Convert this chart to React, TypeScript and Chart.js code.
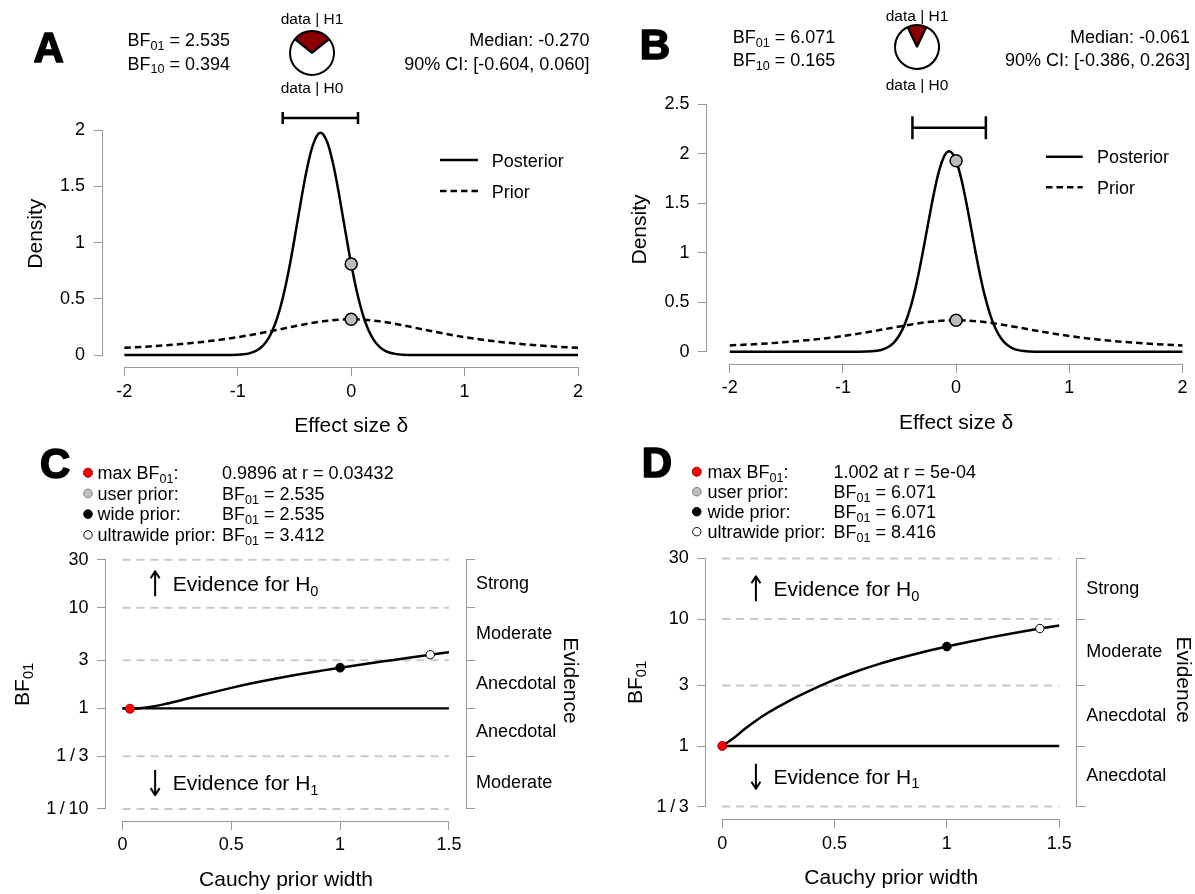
import React, { useEffect, useRef } from 'react';
import { Chart, registerables } from 'chart.js';

Chart.register(...registerables);

const FONT = "'Liberation Sans', Arial, Helvetica, sans-serif";
Chart.defaults.font.family = FONT;
const AXIS_COLOR = '#9a9a9a';
const REF_COLOR = '#c8c8c8';
const PAGE_W = 1195;
const PAGE_H = 894;
const CANVAS_W = 1220;
const PRIOR_DASH = [6.5, 4];

// ======================= DATA =======================
// Panels A / B : prior and posterior density of effect size delta
const deltaTicks = [-2, -1, 0, 1, 2];
const densityTicksA = [0, 0.5, 1, 1.5, 2];
const densityTicksB = [0, 0.5, 1, 1.5, 2, 2.5];
const testValue = 0;

const priorDelta = [-2, -1.75, -1.5, -1.25, -1, -0.75, -0.5, -0.25, 0, 0.25, 0.5, 0.75, 1, 1.25, 1.5, 1.75, 2];
const priorDensity = [0.064, 0.078, 0.098, 0.124, 0.159, 0.204, 0.255, 0.3, 0.318, 0.3, 0.255, 0.204, 0.159, 0.124, 0.098, 0.078, 0.064];

const posteriorDeltaA = [-2, -1.5, -1.1, -1.0, -0.95, -0.9, -0.85, -0.8, -0.75, -0.7, -0.65, -0.6, -0.55, -0.5, -0.45, -0.4, -0.35, -0.3, -0.27, -0.25, -0.2, -0.15, -0.1, -0.05, 0, 0.05, 0.1, 0.15, 0.2, 0.25, 0.3, 0.35, 0.4, 0.45, 0.5, 0.6, 1, 1.5, 2];
const posteriorDensityA = [0, 0, 0, 0.003, 0.007, 0.015, 0.032, 0.063, 0.117, 0.205, 0.337, 0.52, 0.756, 1.033, 1.328, 1.606, 1.826, 1.953, 1.975, 1.965, 1.86, 1.655, 1.386, 1.092, 0.809, 0.563, 0.369, 0.227, 0.132, 0.072, 0.037, 0.018, 0.008, 0.003, 0.001, 0, 0, 0, 0];

const posteriorDeltaB = [-2, -1.5, -1.0, -0.9, -0.8, -0.75, -0.7, -0.65, -0.6, -0.55, -0.5, -0.45, -0.4, -0.35, -0.3, -0.25, -0.2, -0.15, -0.1, -0.06, 0, 0.05, 0.1, 0.15, 0.2, 0.25, 0.3, 0.35, 0.4, 0.45, 0.5, 0.55, 0.6, 0.65, 0.7, 0.8, 1, 1.5, 2];
const posteriorDensityB = [0, 0, 0, 0, 0.002, 0.004, 0.01, 0.023, 0.048, 0.093, 0.169, 0.288, 0.46, 0.69, 0.97, 1.278, 1.579, 1.829, 1.986, 2.025, 1.93, 1.728, 1.45, 1.141, 0.842, 0.582, 0.378, 0.23, 0.131, 0.07, 0.035, 0.016, 0.007, 0.003, 0.001, 0, 0, 0, 0];

const densityAtZeroA = [0.809, 0.318]; // posterior, prior at delta = 0
const densityAtZeroB = [1.93, 0.318];

const bfA = [2.535, 0.394]; // BF01, BF10
const bfB = [6.071, 0.165];
const medianA = -0.27;
const medianB = -0.061;
const ciA = [-0.604, 0.06];
const ciB = [-0.386, 0.263];
const pieA = [0.2826, 0.7174]; // data|H1, data|H0
const pieB = [0.1416, 0.8584];

// Panels C / D : Bayes factor robustness check
const widthTicks = [0, 0.5, 1, 1.5];
const neutralBF = 1;

const priorWidthC = [0, 0.034, 0.1, 0.2, 0.3, 0.4, 0.5, 0.6, 0.7, 0.8, 0.9, 1.0, 1.1, 1.2, 1.3, 1.414, 1.5];
const bf01C = [1.0, 0.9896, 1.012, 1.109, 1.25, 1.416, 1.596, 1.782, 1.968, 2.153, 2.339, 2.535, 2.729, 2.931, 3.141, 3.412, 3.606];

const priorWidthD = [0, 0.05, 0.1, 0.15, 0.2, 0.3, 0.4, 0.5, 0.6, 0.7, 0.8, 0.9, 1.0, 1.1, 1.2, 1.3, 1.414, 1.5];
const bf01D = [1.0, 1.15, 1.36, 1.58, 1.81, 2.28, 2.78, 3.33, 3.88, 4.43, 4.97, 5.52, 6.071, 6.63, 7.2, 7.77, 8.416, 8.9];

// markers: max BF01, user prior, wide prior, ultrawide prior
const markerWidthC = [0.03432, 1, 1, 1.414];
const markerBFC = [0.9896, 2.535, 2.535, 3.412];
const markerWidthD = [0.0005, 1, 1, 1.414];
const markerBFD = [1.002, 6.071, 6.071, 8.416];

const bfTicksC = [0.1, 1 / 3, 1, 3, 10, 30];
const bfTickLabelsC = ['1\u2009/\u200910', '1\u2009/\u20093', '1', '3', '10', '30'];
const bfTicksD = [1 / 3, 1, 3, 10, 30];
const bfTickLabelsD = ['1\u2009/\u20093', '1', '3', '10', '30'];
const evidenceC = ['Moderate', 'Anecdotal', 'Anecdotal', 'Moderate', 'Strong'];
const evidenceD = ['Anecdotal', 'Anecdotal', 'Moderate', 'Strong'];
const arrowWidth = 0.15;

const MARKER_FILL = ['#ff0000', '#bebebe', '#000000', '#ffffff'];
const MARKER_LINE = ['#a00000', '#7c7c7c', '#000000', '#000000'];
const MARKER_R = [4.5, 4.3, 4.3, 4.2];

// ======================= HELPERS =======================
const pts = (xs: number[], ys: number[]) => xs.map((x, i) => ({ x, y: ys[i] }));
const font = (size: number, bold = false) => `${bold ? 'bold ' : ''}${size}px ${FONT}`;
const tickFont = { family: FONT, size: 18 };
const titleFont = { family: FONT, size: 21 };

type Part = [string, boolean?];

function drawRich(ctx: any, parts: Part[], x: number, y: number, size: number, align = 'left') {
  const sub = size * 0.7;
  const widths = parts.map(([t, s]) => {
    ctx.font = font(s ? sub : size);
    return ctx.measureText(t).width;
  });
  const total = widths.reduce((a, b) => a + b, 0);
  let cx = align === 'left' ? x : align === 'center' ? x - total / 2 : x - total;
  ctx.fillStyle = '#000';
  ctx.textAlign = 'left';
  ctx.textBaseline = 'alphabetic';
  parts.forEach(([t, s], i) => {
    ctx.font = font(s ? sub : size);
    ctx.fillText(t, cx, s ? y + size * 0.22 : y);
    cx += widths[i];
  });
}

const bfParts = (sub: string, rest: string): Part[] => [['BF'], [sub, true], [rest]];

function drawLetter(ctx: any, letter: string, x: number, base: number) {
  ctx.font = font(42, true);
  ctx.fillStyle = '#000';
  ctx.strokeStyle = '#000';
  ctx.lineWidth = 1.6;
  ctx.lineJoin = 'round';
  ctx.setLineDash([]);
  ctx.textAlign = 'left';
  ctx.textBaseline = 'alphabetic';
  ctx.fillText(letter, x, base);
  ctx.strokeText(letter, x, base);
}

function fmtR(v: number) {
  if (v >= 0.001) return String(v);
  const [m, e] = v.toExponential(0).split('e');
  const sign = e[0] === '-' ? '-' : '+';
  return `${m}e${sign}${e.replace(/^[-+]/, '').padStart(2, '0')}`;
}

const align1 = (p: number) => Math.round(p - 0.5) + 0.5;

function drawAxisLines(chart: any, xTicks: number[], yTicks: number[], withRight: boolean) {
  const { ctx, chartArea } = chart;
  const xs = chart.scales.x;
  const ys = chart.scales.y;
  ctx.save();
  ctx.strokeStyle = AXIS_COLOR;
  ctx.lineWidth = 1;
  ctx.setLineDash([]);
  const yA = align1(ys.getPixelForValue(yTicks[yTicks.length - 1]));
  const yB = align1(ys.getPixelForValue(yTicks[0]));
  const lx = Math.round(chartArea.left) - 0.5;
  ctx.beginPath();
  ctx.moveTo(lx, yA - 0.5);
  ctx.lineTo(lx, yB + 0.5);
  ctx.stroke();
  if (withRight) {
    const rx = Math.round(chartArea.right) + 0.5;
    ctx.beginPath();
    ctx.moveTo(rx, yA - 0.5);
    ctx.lineTo(rx, yB + 0.5);
    ctx.stroke();
  }
  const by = Math.round(chartArea.bottom) + 0.5;
  const xA = align1(xs.getPixelForValue(xTicks[0]));
  const xB = align1(xs.getPixelForValue(xTicks[xTicks.length - 1]));
  ctx.beginPath();
  ctx.moveTo(xA - 0.5, by);
  ctx.lineTo(xB + 0.5, by);
  ctx.stroke();
  ctx.restore();
}

function bottomAxis(min: number, max: number, ticks: number[], title: string, height: number) {
  return {
    type: 'linear',
    position: 'bottom',
    min,
    max,
    afterBuildTicks: (s: any) => {
      s.ticks = ticks.map((v) => ({ value: v }));
    },
    afterFit: (s: any) => {
      s.height = height;
    },
    border: { display: false },
    grid: { drawOnChartArea: false, drawTicks: true, tickLength: 9, tickWidth: 1, tickColor: AXIS_COLOR },
    ticks: {
      autoSkip: false,
      maxRotation: 0,
      minRotation: 0,
      color: '#000',
      font: tickFont,
      padding: 4.5,
      callback: (_v: any, i: number) => String(ticks[i]),
    },
    title: { display: true, text: title, color: '#000', font: titleFont, padding: { top: 0, bottom: 0 } },
  };
}

function leftAxis(type: string, min: number, max: number, ticks: number[], labels: string[], width: number, title?: string, titlePad = 0) {
  return {
    type,
    position: 'left',
    min,
    max,
    afterBuildTicks: (s: any) => {
      s.ticks = ticks.map((v) => ({ value: v }));
    },
    afterFit: (s: any) => {
      s.width = width;
    },
    border: { display: false },
    grid: { drawOnChartArea: false, drawTicks: true, tickLength: 9, tickWidth: 1, tickColor: AXIS_COLOR },
    ticks: {
      autoSkip: false,
      color: '#000',
      font: tickFont,
      padding: 8.5,
      callback: (_v: any, i: number) => labels[i],
    },
    title: title
      ? { display: true, text: title, color: '#000', font: titleFont, padding: { top: titlePad, bottom: 0 } }
      : { display: false },
  };
}

function rightEvidenceAxis(min: number, max: number, bounds: number[], evidence: string[], width: number, titlePad: number) {
  const mids = evidence.map((_, i) => Math.sqrt(bounds[i] * bounds[i + 1]));
  const items = [
    ...bounds.map((v) => ({ v, label: '' })),
    ...mids.map((v, i) => ({ v, label: evidence[i] })),
  ].sort((a, b) => a.v - b.v);
  return {
    type: 'logarithmic',
    position: 'right',
    min,
    max,
    afterBuildTicks: (s: any) => {
      s.ticks = items.map((it) => ({ value: it.v }));
    },
    afterFit: (s: any) => {
      s.width = width;
    },
    border: { display: false },
    grid: {
      drawOnChartArea: false,
      drawTicks: true,
      tickLength: 9,
      tickWidth: 1,
      tickColor: (c: any) => (c.tick && bounds.includes(c.tick.value) ? AXIS_COLOR : 'rgba(0,0,0,0)'),
    },
    ticks: {
      autoSkip: false,
      color: '#000',
      font: tickFont,
      padding: 1,
      callback: (_v: any, i: number) => items[i].label,
    },
    title: { display: true, text: 'Evidence', color: '#000', font: titleFont, padding: { top: titlePad, bottom: 0 } },
  };
}

const baseOptions = (pad: any) => ({
  responsive: false,
  maintainAspectRatio: false,
  animation: false,
  events: [],
  layout: { padding: pad },
  plugins: { legend: { display: false }, tooltip: { enabled: false }, title: { display: false } },
});

// ======================= PANEL SPECS =======================
const panelA = {
  letter: 'A', letterX: 33.5, letterBase: 61.7,
  bf: bfA, median: medianA, ci: ciA, atZero: densityAtZeroA,
  postX: posteriorDeltaA, postY: posteriorDensityA, yTicks: densityTicksA,
  xRange: [-2.192, 2.192], yRange: [-0.109, 2.267],
  pad: { left: 10, right: CANVAS_W - 599.8, top: 100, bottom: PAGE_H - 367.3 - 72 },
  yW: 92.6, xH: 72, yTitlePad: 13.8,
  bfX: 127.4, statX: 589.4, base: [45.7, 69.5], pieX: 312, pieBase: [24, 93],
  legend: { x0: 440, x1: 478, tx: 491.8, y: [160, 191] },
  ciLevel: 2.107, cap: 6,
};

const panelB = {
  letter: 'B', letterX: 639.8, letterBase: 59,
  bf: bfB, median: medianB, ci: ciB, atZero: densityAtZeroB,
  postX: posteriorDeltaB, postY: posteriorDensityB, yTicks: densityTicksB,
  xRange: [-2.201, 2.201], yRange: [-0.124, 2.594],
  pad: { left: 615, right: CANVAS_W - 1205.2, top: 95, bottom: PAGE_H - 364 - 71.9 },
  yW: 92, xH: 71.9, yTitlePad: 12.2,
  bfX: 732.8, statX: 1190, base: [43.3, 66.2], pieX: 917, pieBase: [20.7, 90],
  legend: { x0: 1046, x1: 1082.7, tx: 1097, y: [156.7, 187.3] },
  ciLevel: 2.264, cap: 11.5,
};

const panelC = {
  letter: 'C', letterX: 40, letterBase: 478,
  curveX: priorWidthC, curveY: bf01C, markX: markerWidthC, markY: markerBFC,
  bounds: bfTicksC, boundLabels: bfTickLabelsC, evidence: evidenceC,
  xRange: [-0.0758, 1.579], yRange: [0.0758, 47.1],
  pad: { left: 46, right: CANVAS_W - 586.8, top: 540, bottom: PAGE_H - 821 - 71.6 },
  yW: 60, yRW: 120.7, xH: 71.6, rTitlePad: 4,
  legend: { dotX: 88, tx: 97.6, vx: 222, base: [479, 499.7, 520.4, 541.1] },
  bfTitleX: 28.7,
};

const panelD = {
  letter: 'D', letterX: 641.7, letterBase: 477,
  curveX: priorWidthD, curveY: bf01D, markX: markerWidthD, markY: markerBFD,
  bounds: bfTicksD, boundLabels: bfTickLabelsD, evidence: evidenceD,
  xRange: [-0.0708, 1.5761], yRange: [0.2648, 41.9],
  pad: { left: 646.3, right: CANVAS_W - 1199.1, top: 540, bottom: PAGE_H - 819.3 - 71.6 },
  yW: 60, yRW: 122.8, xH: 71.6, rTitlePad: 4,
  legend: { dotX: 696.8, tx: 707.4, vx: 833.4, base: [478, 498, 518, 538] },
  bfTitleX: 641.5,
};

// ======================= CONFIGS =======================
function densityConfig(p: any) {
  const plugin = {
    id: 'density' + p.letter,
    beforeDatasetsDraw(chart: any) {
      drawAxisLines(chart, deltaTicks, p.yTicks, false);
    },
    afterDraw(chart: any) {
      const { ctx } = chart;
      const xs = chart.scales.x;
      const ys = chart.scales.y;
      ctx.save();
      drawLetter(ctx, p.letter, p.letterX, p.letterBase);
      drawRich(ctx, bfParts('01', ` = ${p.bf[0].toFixed(3)}`), p.bfX, p.base[0], 18);
      drawRich(ctx, bfParts('10', ` = ${p.bf[1].toFixed(3)}`), p.bfX, p.base[1], 18);
      drawRich(ctx, [[`Median: ${p.median.toFixed(3)}`]], p.statX, p.base[0], 18, 'right');
      drawRich(ctx, [[`90% CI: [${p.ci[0].toFixed(3)}, ${p.ci[1].toFixed(3)}]`]], p.statX, p.base[1], 18, 'right');
      drawRich(ctx, [['data | H1']], p.pieX, p.pieBase[0], 15.5, 'center');
      drawRich(ctx, [['data | H0']], p.pieX, p.pieBase[1], 15.5, 'center');
      // legend
      ctx.strokeStyle = '#000';
      ctx.lineWidth = 2.5;
      ['Posterior', 'Prior'].forEach((name, i) => {
        const y = p.legend.y[i];
        ctx.setLineDash(i === 0 ? [] : PRIOR_DASH);
        ctx.beginPath();
        ctx.moveTo(p.legend.x0, y);
        ctx.lineTo(p.legend.x1, y);
        ctx.stroke();
        ctx.setLineDash([]);
        drawRich(ctx, [[name]], p.legend.tx, y + 6.5, 18);
      });
      // credible interval bar
      const x0 = xs.getPixelForValue(p.ci[0]);
      const x1 = xs.getPixelForValue(p.ci[1]);
      const y = ys.getPixelForValue(p.ciLevel);
      ctx.lineWidth = 2.5;
      ctx.beginPath();
      ctx.moveTo(x0, y);
      ctx.lineTo(x1, y);
      ctx.moveTo(x0, y - p.cap);
      ctx.lineTo(x0, y + p.cap);
      ctx.moveTo(x1, y - p.cap);
      ctx.lineTo(x1, y + p.cap);
      ctx.stroke();
      ctx.restore();
    },
  };
  return {
    type: 'line',
    data: {
      datasets: [
        {
          label: 'density at test value',
          data: pts([testValue, testValue], p.atZero),
          showLine: false,
          pointRadius: 6,
          pointBackgroundColor: '#bdbdbd',
          pointBorderColor: '#000',
          pointBorderWidth: 1.5,
          order: 0,
        },
        {
          label: 'Posterior',
          data: pts(p.postX, p.postY),
          borderColor: '#000',
          borderWidth: 2.5,
          pointRadius: 0,
          cubicInterpolationMode: 'monotone',
          order: 1,
        },
        {
          label: 'Prior',
          data: pts(priorDelta, priorDensity),
          borderColor: '#000',
          borderWidth: 2.5,
          borderDash: PRIOR_DASH,
          pointRadius: 0,
          cubicInterpolationMode: 'monotone',
          order: 2,
        },
      ],
    },
    options: {
      ...baseOptions(p.pad),
      scales: {
        x: bottomAxis(p.xRange[0], p.xRange[1], deltaTicks, 'Effect size \u03B4', p.xH),
        y: leftAxis('linear', p.yRange[0], p.yRange[1], p.yTicks, p.yTicks.map(String), p.yW, 'Density', p.yTitlePad),
      },
    },
    plugins: [plugin],
  };
}

function robustConfig(p: any) {
  const plugin = {
    id: 'robust' + p.letter,
    beforeDatasetsDraw(chart: any) {
      drawAxisLines(chart, widthTicks, p.bounds, true);
      const { ctx } = chart;
      const xs = chart.scales.x;
      const ys = chart.scales.y;
      ctx.save();
      ctx.strokeStyle = REF_COLOR;
      ctx.lineWidth = 2;
      ctx.setLineDash([8, 6]);
      const xa = xs.getPixelForValue(widthTicks[0]);
      const xb = xs.getPixelForValue(widthTicks[widthTicks.length - 1]);
      p.bounds.forEach((v: number) => {
        if (v === neutralBF) return;
        const y = ys.getPixelForValue(v);
        ctx.beginPath();
        ctx.moveTo(xa, y);
        ctx.lineTo(xb, y);
        ctx.stroke();
      });
      ctx.restore();
    },
    afterDraw(chart: any) {
      const { ctx } = chart;
      const xs = chart.scales.x;
      const ys = chart.scales.y;
      ctx.save();
      drawLetter(ctx, p.letter, p.letterX, p.letterBase);
      // legend rows
      const names: Part[][] = [
        [['max BF'], ['01', true], [':']],
        [['user prior:']],
        [['wide prior:']],
        [['ultrawide prior:']],
      ];
      const values: Part[][] = [
        [[`${p.markY[0]} at r = ${fmtR(p.markX[0])}`]],
        bfParts('01', ` = ${p.markY[1].toFixed(3)}`),
        bfParts('01', ` = ${p.markY[2].toFixed(3)}`),
        bfParts('01', ` = ${p.markY[3].toFixed(3)}`),
      ];
      names.forEach((parts, i) => {
        const base = p.legend.base[i];
        ctx.beginPath();
        ctx.arc(p.legend.dotX, base - 6.3, MARKER_R[i], 0, Math.PI * 2);
        ctx.fillStyle = MARKER_FILL[i];
        ctx.fill();
        ctx.lineWidth = 1;
        ctx.strokeStyle = MARKER_LINE[i];
        ctx.stroke();
        drawRich(ctx, parts, p.legend.tx, base, 18);
        drawRich(ctx, values[i], p.legend.vx, base, 18);
      });
      // evidence arrows
      const ax = xs.getPixelForValue(arrowWidth);
      const nb = p.bounds.length;
      const yUp = ys.getPixelForValue(Math.sqrt(p.bounds[nb - 1] * p.bounds[nb - 2]));
      const yDn = ys.getPixelForValue(Math.sqrt(p.bounds[0] * p.bounds[1]));
      ctx.strokeStyle = '#000';
      ctx.lineWidth = 2;
      ctx.setLineDash([]);
      [
        [yUp, -1],
        [yDn, 1],
      ].forEach(([yc, dir]) => {
        const tip = yc + dir * 12.5;
        const tail = yc - dir * 12.5;
        ctx.beginPath();
        ctx.moveTo(ax, tail);
        ctx.lineTo(ax, tip);
        ctx.moveTo(ax - 4.5, tip - dir * 7);
        ctx.lineTo(ax, tip);
        ctx.lineTo(ax + 4.5, tip - dir * 7);
        ctx.stroke();
      });
      drawRich(ctx, [['Evidence for H'], ['0', true]], ax + 17.5, yUp + 7.5, 21);
      drawRich(ctx, [['Evidence for H'], ['1', true]], ax + 17.5, yDn + 7.5, 21);
      // y title BF01
      const yMid = (ys.getPixelForValue(p.bounds[0]) + ys.getPixelForValue(p.bounds[nb - 1])) / 2;
      ctx.save();
      ctx.translate(p.bfTitleX, yMid);
      ctx.rotate(-Math.PI / 2);
      drawRich(ctx, bfParts('01', ''), 0, 0, 21, 'center');
      ctx.restore();
      ctx.restore();
    },
  };
  return {
    type: 'line',
    data: {
      datasets: [
        {
          label: 'markers',
          data: pts(p.markX, p.markY),
          showLine: false,
          pointRadius: MARKER_R,
          pointBackgroundColor: MARKER_FILL,
          pointBorderColor: MARKER_LINE,
          pointBorderWidth: 1,
          order: 0,
        },
        {
          label: 'BF01',
          data: pts(p.curveX, p.curveY),
          borderColor: '#000',
          borderWidth: 2.5,
          pointRadius: 0,
          cubicInterpolationMode: 'monotone',
          order: 1,
        },
        {
          label: 'BF = 1',
          data: pts([widthTicks[0], widthTicks[widthTicks.length - 1]], [neutralBF, neutralBF]),
          borderColor: '#000',
          borderWidth: 2.3,
          pointRadius: 0,
          order: 2,
        },
      ],
    },
    options: {
      ...baseOptions(p.pad),
      scales: {
        x: bottomAxis(p.xRange[0], p.xRange[1], widthTicks, 'Cauchy prior width', p.xH),
        y: leftAxis('logarithmic', p.yRange[0], p.yRange[1], p.bounds, p.boundLabels, p.yW),
        yR: rightEvidenceAxis(p.yRange[0], p.yRange[1], p.bounds, p.evidence, p.yRW, p.rTitlePad),
      },
    },
    plugins: [plugin],
  };
}

function pieConfig(values: number[]) {
  return {
    type: 'pie',
    data: {
      labels: ['data | H1', 'data | H0'],
      datasets: [
        {
          data: values,
          backgroundColor: ['#8b0000', '#ffffff'],
          borderColor: '#000',
          borderWidth: 2,
          hoverOffset: 0,
          offset: 0,
        },
      ],
    },
    options: {
      responsive: false,
      maintainAspectRatio: false,
      animation: false,
      events: [],
      rotation: -values[0] * 180,
      layout: { padding: 0 },
      plugins: { legend: { display: false }, tooltip: { enabled: false } },
    },
  };
}

// ======================= COMPONENT =======================
export default function App() {
  const aRef = useRef<HTMLCanvasElement>(null);
  const bRef = useRef<HTMLCanvasElement>(null);
  const cRef = useRef<HTMLCanvasElement>(null);
  const dRef = useRef<HTMLCanvasElement>(null);
  const pieARef = useRef<HTMLCanvasElement>(null);
  const pieBRef = useRef<HTMLCanvasElement>(null);

  useEffect(() => {
    const charts: any[] = [];
    const mk = (el: HTMLCanvasElement | null, cfg: any) => {
      if (el) charts.push(new Chart(el, cfg));
    };
    mk(aRef.current, densityConfig(panelA));
    mk(bRef.current, densityConfig(panelB));
    mk(cRef.current, robustConfig(panelC));
    mk(dRef.current, robustConfig(panelD));
    mk(pieARef.current, pieConfig(pieA));
    mk(pieBRef.current, pieConfig(pieB));
    return () => charts.forEach((c) => c.destroy());
  }, []);

  const full: any = { position: 'absolute', left: 0, top: 0, width: CANVAS_W, height: PAGE_H };
  return (
    <div
      style={{
        position: 'absolute',
        left: 0,
        top: 0,
        width: PAGE_W,
        height: PAGE_H,
        overflow: 'hidden',
        background: '#fff',
      }}
    >
      <canvas ref={aRef} width={CANVAS_W} height={PAGE_H} style={full} />
      <canvas ref={bRef} width={CANVAS_W} height={PAGE_H} style={full} />
      <canvas ref={cRef} width={CANVAS_W} height={PAGE_H} style={full} />
      <canvas ref={dRef} width={CANVAS_W} height={PAGE_H} style={full} />
      <canvas ref={pieARef} width={46} height={46} style={{ position: 'absolute', left: 289, top: 30, width: 46, height: 46 }} />
      <canvas ref={pieBRef} width={46} height={46} style={{ position: 'absolute', left: 894, top: 24, width: 46, height: 46 }} />
    </div>
  );
}
